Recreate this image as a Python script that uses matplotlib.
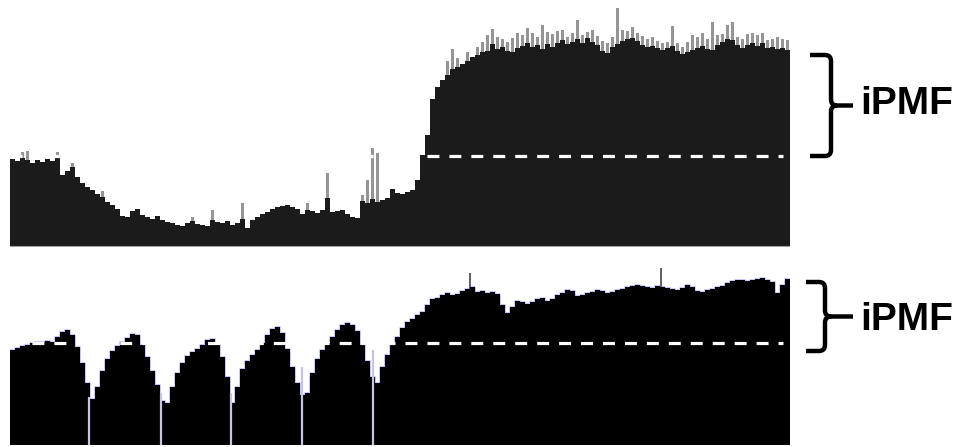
import numpy as np
import matplotlib
matplotlib.use('Agg')
from matplotlib import pyplot as plt
from matplotlib.path import Path
from matplotlib.patches import PathPatch

# top panel: coverage per bin (black body) and the thin grey maxima above it
top_cov = [88, 86, 89, 87, 84, 87, 85, 88, 86, 89,
           72, 76, 80, 70, 64, 60, 57, 53, 50, 45,
           42, 38, 31, 30, 36, 38, 32, 30, 28, 31,
           27, 25, 24, 22, 21, 24, 26, 23, 22, 21,
           27, 25, 24, 26, 22, 24, 28, 19, 27, 30,
           33, 35, 38, 40, 41, 42, 40, 38, 33, 37,
           36, 34, 37, 49, 35, 36, 37, 33, 30, 29,
           46, 44, 48, 45, 47, 49, 58, 54, 53, 55,
           57, 67, 92, 112, 148, 160, 167, 172, 178, 180,
           183, 186, 190, 192, 195, 196, 203, 198, 200, 196,
           195, 199, 201, 204, 200, 202, 198, 203, 200, 204,
           207, 203, 205, 208, 204, 209, 205, 202, 196, 194,
           200, 203, 206, 208, 209, 206, 202, 200, 201, 199,
           197, 199, 201, 196, 193, 195, 197, 199, 201, 198,
           197, 202, 205, 208, 207, 202, 199, 202, 204, 201,
           204, 199, 200, 198, 199, 197]
top_max = [0, 0, 95, 96, 0, 0, 0, 0, 0, 95,
           0, 0, 84, 0, 0, 0, 0, 0, 56, 0,
           0, 0, 0, 0, 0, 0, 0, 0, 0, 0,
           0, 0, 0, 0, 0, 0, 30, 0, 0, 0,
           37, 0, 0, 0, 0, 0, 44, 0, 0, 0,
           0, 0, 0, 0, 0, 0, 0, 0, 0, 44,
           0, 0, 0, 74, 0, 0, 0, 0, 0, 0,
           52, 67, 99, 94, 0, 0, 0, 0, 0, 0,
           0, 0, 0, 0, 0, 0, 0, 186, 198, 189,
           0, 195, 0, 200, 205, 212, 218, 210, 208, 205,
           209, 214, 212, 219, 214, 210, 222, 215, 213, 216,
           217, 210, 214, 227, 212, 215, 217, 211, 206, 204,
           210, 239, 217, 216, 220, 214, 211, 208, 210, 206,
           204, 205, 221, 204, 200, 205, 212, 210, 214, 208,
           225, 212, 213, 222, 225, 210, 208, 213, 214, 212,
           214, 207, 208, 210, 208, 207]
top_line = 91

# bottom panel: coverage per bin, gaps (zero-coverage lines) and single spikes
bot_cov = [95, 97, 99, 100, 102, 103, 103, 104, 103, 108,
           113, 115, 110, 98, 82, 62, 46, 58, 74, 86,
           94, 99, 103, 107, 111, 110, 100, 88, 74, 60,
           44, 42, 58, 72, 82, 89, 93, 96, 100, 105,
           106, 100, 88, 68, 42, 58, 76, 84, 90, 95,
           102, 110, 116, 118, 112, 96, 78, 62, 50, 52,
           72, 86, 95, 102, 108, 115, 120, 122, 120, 114,
           100, 84, 68, 62, 78, 90, 100, 108, 117, 123,
           126, 130, 133, 140, 146, 147, 150, 152, 150, 151,
           154, 156, 158, 153, 154, 152, 153, 151, 140, 132,
           138, 144, 143, 141, 143, 146, 147, 144, 146, 150,
           152, 155, 154, 149, 150, 152, 153, 155, 154, 152,
           153, 155, 156, 158, 159, 160, 159, 158, 157, 159,
           158, 157, 156, 155, 157, 160, 158, 154, 153, 155,
           156, 158, 159, 162, 164, 165, 165, 164, 165, 166,
           167, 165, 163, 152, 160, 166]
bot_gap_pos = [15.8, 30.2, 44.2, 58.4, 72.6]
bot_gap_h = [48, 52, 52, 78, 95]
bot_spike_pos = [92.0, 130.2]
bot_spike_h = [172, 177]
bot_line = 102


def brace(ax, x_left, x_stem, x_tip, y_top, y_bot, r=6):
    y_mid = (y_top + y_bot) / 2.0
    verts = [(x_left, y_top), (x_stem - r, y_top), (x_stem, y_top), (x_stem, y_top + r),
             (x_stem, y_mid - r), (x_stem, y_mid), (x_stem + r, y_mid), (x_tip, y_mid),
             (x_stem + r, y_mid), (x_stem, y_mid), (x_stem, y_mid + r),
             (x_stem, y_bot - r), (x_stem, y_bot), (x_stem - r, y_bot), (x_left, y_bot)]
    codes = [Path.MOVETO, Path.LINETO, Path.CURVE3, Path.CURVE3,
             Path.LINETO, Path.CURVE3, Path.CURVE3, Path.LINETO,
             Path.MOVETO, Path.CURVE3, Path.CURVE3,
             Path.LINETO, Path.CURVE3, Path.CURVE3, Path.LINETO]
    ax.add_patch(PathPatch(Path(verts, codes), facecolor='none', edgecolor='k',
                           linewidth=3.2, capstyle='butt', joinstyle='round'))


def draw(pathout):
    plt.rcParams['lines.scale_dashes'] = False
    W, H = 968, 447
    fig = plt.figure(figsize=(W / 100, H / 100), dpi=100)

    # ---- top panel ----
    ax_0 = fig.add_axes([10 / W, (H - 247) / H, 780 / W, 247 / H])
    n0 = len(top_cov)
    x0 = np.arange(n0)
    ax_0.bar(x0 + 0.5, top_max, width=0.5, color='#959595', zorder=1)
    ax_0.bar(x0, top_cov, width=1.0, align='edge', color='#1b1b1b', linewidth=0, zorder=2)
    ax_0.plot([0, n0 - 1.4], [top_line, top_line], color='white', lw=2.3,
              dashes=(8.6, 7.2), dash_capstyle='butt', zorder=3)
    ax_0.axhline(0, color='#a0a0a0', lw=1.5, zorder=4)
    ax_0.set_xlim(0, n0)
    ax_0.set_ylim(0, 247)
    ax_0.axis('off')

    # ---- bottom panel ----
    ax_1 = fig.add_axes([10 / W, 2 / H, 780 / W, 183 / H])
    n1 = len(bot_cov)
    x1 = np.arange(n1)
    ax_1.step(np.append(x1, n1), bot_cov + [bot_cov[-1]], where='post',
              color='#7a7aff', lw=1.2, alpha=0.5, zorder=1)
    ax_1.vlines(bot_spike_pos, 0, bot_spike_h, color='#444444', lw=1.2, zorder=1)
    ax_1.bar(x1, bot_cov, width=1.0, align='edge', color='black', linewidth=0, zorder=2)
    ax_1.vlines(bot_gap_pos, 0, bot_gap_h, color='#c6c6e2', lw=1.6, zorder=3)
    ax_1.plot([0, n1 - 1.4], [bot_line, bot_line], color='white', lw=2.3,
              dashes=(8.6, 7.2), dash_capstyle='butt', zorder=4)
    ax_1.set_xlim(0, n1)
    ax_1.set_ylim(0, 183)
    ax_1.axis('off')

    # ---- braces and labels (overlay in pixel coordinates) ----
    ax_o = fig.add_axes([0, 0, 1, 1])
    ax_o.set_xlim(0, W)
    ax_o.set_ylim(H, 0)
    ax_o.axis('off')
    brace(ax_o, 810, 831, 853, 55, 156)
    brace(ax_o, 806, 825, 853, 282, 351)
    ax_o.text(860, 113.5, 'iPMF', ha='left', va='baseline', fontsize=28,
              fontweight='bold', family='Liberation Sans', color='k')
    ax_o.text(860, 330.5, 'iPMF', ha='left', va='baseline', fontsize=28,
              fontweight='bold', family='Liberation Sans', color='k')

    fig.savefig(pathout, dpi=100)
    plt.close()


def main():
    draw('out.png')


if __name__ == "__main__":
    main()
